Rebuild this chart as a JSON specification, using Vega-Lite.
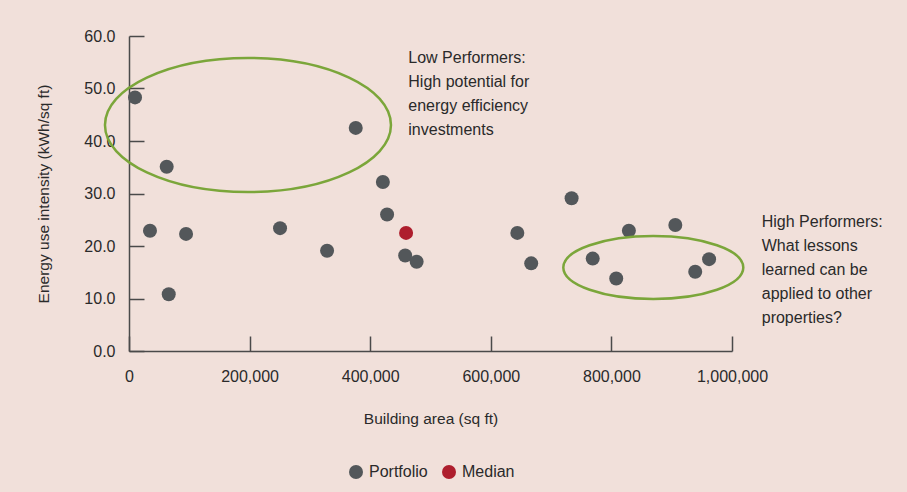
{
  "$schema": "https://vega.github.io/schema/vega-lite/v6.json",
  "autosize": "none",
  "width": 603,
  "height": 315,
  "padding": {"left": 129, "top": 36, "right": 175, "bottom": 141},
  "background": "#F1E0DA",
  "config": {
    "view": {"stroke": null},
    "axis": {"grid": false, "labelFlush": false, "labelOverlap": false, "domainColor": "#4a4a4a", "domainWidth": 1.5, "tickColor": "#4a4a4a", "tickWidth": 1.5, "labelColor": "#2a2a2a", "titleColor": "#2a2a2a", "labelFont": "Liberation Sans", "labelFontSize": 16, "titleFont": "Liberation Sans", "titleFontSize": 15.5, "titleFontWeight": "normal"},
    "legend": {"labelFont": "Liberation Sans", "labelFontSize": 16, "labelColor": "#2a2a2a"}
  },
  "datasets": {
    "points": [
      {"area": 10000, "eui": 48.3, "group": "Portfolio"},
      {"area": 62500, "eui": 35.1, "group": "Portfolio"},
      {"area": 34800, "eui": 22.9, "group": "Portfolio"},
      {"area": 94600, "eui": 22.3, "group": "Portfolio"},
      {"area": 65900, "eui": 10.8, "group": "Portfolio"},
      {"area": 250500, "eui": 23.4, "group": "Portfolio"},
      {"area": 328500, "eui": 19.1, "group": "Portfolio"},
      {"area": 376000, "eui": 42.5, "group": "Portfolio"},
      {"area": 421000, "eui": 32.2, "group": "Portfolio"},
      {"area": 428000, "eui": 26.0, "group": "Portfolio"},
      {"area": 458000, "eui": 18.2, "group": "Portfolio"},
      {"area": 477000, "eui": 17.0, "group": "Portfolio"},
      {"area": 644000, "eui": 22.5, "group": "Portfolio"},
      {"area": 667000, "eui": 16.7, "group": "Portfolio"},
      {"area": 734000, "eui": 29.1, "group": "Portfolio"},
      {"area": 769000, "eui": 17.6, "group": "Portfolio"},
      {"area": 808000, "eui": 13.8, "group": "Portfolio"},
      {"area": 829000, "eui": 22.9, "group": "Portfolio"},
      {"area": 906000, "eui": 24.0, "group": "Portfolio"},
      {"area": 939000, "eui": 15.1, "group": "Portfolio"},
      {"area": 962000, "eui": 17.5, "group": "Portfolio"},
      {"area": 459500, "eui": 22.5, "group": "Median"}
    ],
    "notes": [
      {"area": 463200, "eui": 54.9, "text": ["Low Performers:", "High potential for", "energy efficiency", "investments"]},
      {"area": 1049300, "eui": 23.7, "text": ["High Performers:", "What lessons", "learned can be", "applied to other", "properties?"]}
    ],
    "ellipse1": [{"area": 197300, "eui": 43.05}],
    "ellipse2": [{"area": 869500, "eui": 15.9}]
  },
  "encoding": {
    "x": {"field": "area", "type": "quantitative", "scale": {"domain": [0, 1000000], "nice": false}},
    "y": {"field": "eui", "type": "quantitative", "scale": {"domain": [0, 60], "nice": false}}
  },
  "layer": [
    {
      "data": {"name": "points"},
      "mark": {"type": "point", "filled": true, "opacity": 1, "size": 196, "shape": "circle"},
      "encoding": {
        "x": {"field": "area", "type": "quantitative", "scale": {"domain": [0, 1000000], "nice": false},
          "axis": {"values": [0, 200000, 400000, 600000, 800000, 1000000], "format": ",d", "tickSize": -15, "labelPadding": 32, "title": "Building area (sq ft)", "titlePadding": 27}},
        "y": {"field": "eui", "type": "quantitative", "scale": {"domain": [0, 60], "nice": false},
          "axis": {"values": [0, 10, 20, 30, 40, 50, 60], "format": ".1f", "tickSize": -15, "labelPadding": 29, "title": "Energy use intensity (kWh/sq ft)", "titlePadding": 32}},
        "color": {"field": "group", "type": "nominal", "sort": ["Portfolio", "Median"],
          "scale": {"domain": ["Portfolio", "Median"], "range": ["#53575A", "#AE1E2D"]},
          "legend": {"title": null, "orient": "none", "legendX": 219, "legendY": 428, "direction": "horizontal", "symbolType": "circle", "symbolSize": 196, "symbolOpacity": 1, "symbolStrokeWidth": 0, "labelOffset": 5, "columnPadding": 13}}
      }
    },
    {
      "data": {"name": "ellipse1"},
      "mark": {"type": "point", "filled": false, "stroke": "#7BA63A", "strokeWidth": 2.5, "opacity": 1, "size": 81796,
        "shape": "M-1,0C-1,-0.2588,-0.5523,-0.4685,0,-0.4685C0.5523,-0.4685,1,-0.2588,1,0C1,0.2588,0.5523,0.4685,0,0.4685C-0.5523,0.4685,-1,0.2588,-1,0Z"},
      "encoding": {}
    },
    {
      "data": {"name": "ellipse2"},
      "mark": {"type": "point", "filled": false, "stroke": "#7BA63A", "strokeWidth": 2.5, "opacity": 1, "size": 32400,
        "shape": "M-1,0C-1,-0.1933,-0.5523,-0.35,0,-0.35C0.5523,-0.35,1,-0.1933,1,0C1,0.1933,0.5523,0.35,0,0.35C-0.5523,0.35,-1,0.1933,-1,0Z"},
      "encoding": {}
    },
    {
      "data": {"name": "notes"},
      "mark": {"type": "text", "align": "left", "baseline": "alphabetic", "font": "Liberation Sans", "fontSize": 16, "lineHeight": 24, "color": "#2a2a2a"},
      "encoding": {"text": {"field": "text"}}
    }
  ]
}
